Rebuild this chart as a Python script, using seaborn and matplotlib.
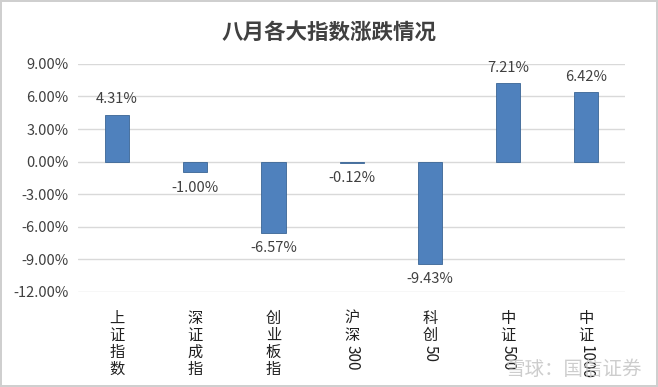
import re
import matplotlib
matplotlib.use("Agg")
import matplotlib.pyplot as plt
import seaborn as sns
import pandas as pd

# ── Data ─────────────────────────────────────────────────────────────────────
categories = ["上证指数", "深证成指", "创业板指", "沪深300", "科创50", "中证500", "中证1000"]
changes = [4.31, -1.00, -6.57, -0.12, -9.43, 7.21, 6.42]
y_ticks = [-12, -9, -6, -3, 0, 3, 6, 9]

# ── Style ────────────────────────────────────────────────────────────────────
sns.set_theme(style="whitegrid")
plt.rcParams["font.family"] = ["Noto Sans CJK SC", "DejaVu Sans"]
BAR_COLOR = "#4F81BD"
TEXT_COLOR = "#404040"
GRID_COLOR = "#D9D9D9"

df = pd.DataFrame({"index": categories, "change": changes})

fig = plt.figure(figsize=(6.58, 3.87), dpi=100)
fig.patch.set_edgecolor("#CFCFCF")
fig.patch.set_linewidth(1.5)
ax = fig.add_axes([0.1185, 0.2455, 0.832, 0.5895])

sns.barplot(data=df, x="index", y="change", color=BAR_COLOR, width=0.31,
            edgecolor="#3A6595", linewidth=0.6, saturation=1, ax=ax)

ax.set_ylim(-12, 9)
ax.set_yticks(y_ticks)
ax.set_yticklabels([f"{v:.2f}%" for v in y_ticks], fontsize=10.5, color=TEXT_COLOR)
ax.tick_params(axis="y", length=0, pad=7)
ax.grid(axis="y", color=GRID_COLOR, linewidth=1)
ax.grid(axis="x", visible=False)
ax.set_axisbelow(True)
for s in ax.spines.values():
    s.set_visible(False)
ax.set_xlabel("")
ax.set_ylabel("")
ax.set_xticks(range(len(categories)))
ax.set_xticklabels([""] * len(categories))
ax.tick_params(axis="x", length=0)

# data labels
for i, v in enumerate(changes):
    ax.annotate(f"{v:.2f}%", (i, v), xytext=(0, 6 if v >= 0 else -6),
                textcoords="offset points", ha="center",
                va="bottom" if v >= 0 else "top", fontsize=10.5, color=TEXT_COLOR)

# vertical category labels: Chinese stacked, digits rotated
line_pt = 12.2
for i, name in enumerate(categories):
    cn = re.sub(r"[0-9]", "", name)
    num = re.sub(r"[^0-9]", "", name)
    ax.annotate("\n".join(cn), (i, 0), xycoords=("data", "axes fraction"),
                xytext=(0, -13), textcoords="offset points", ha="center", va="top",
                fontsize=11, linespacing=1.0, color="#202020")
    if num:
        ax.annotate(num, (i, 0), xycoords=("data", "axes fraction"),
                    xytext=(0, -13 - len(cn) * line_pt - 1), textcoords="offset points",
                    ha="center", va="top", rotation=-90, fontsize=11, color="#202020")

fig.text(0.5, 0.917, "八月各大指数涨跌情况", ha="center", va="center",
         fontsize=15.5, fontweight="bold", color=TEXT_COLOR)
fig.text(0.975, 0.045, "雪球：国信证券", ha="right", va="center",
         fontsize=14, color="#C8C8C8", alpha=0.9)

fig.savefig("out.png", dpi=100)
